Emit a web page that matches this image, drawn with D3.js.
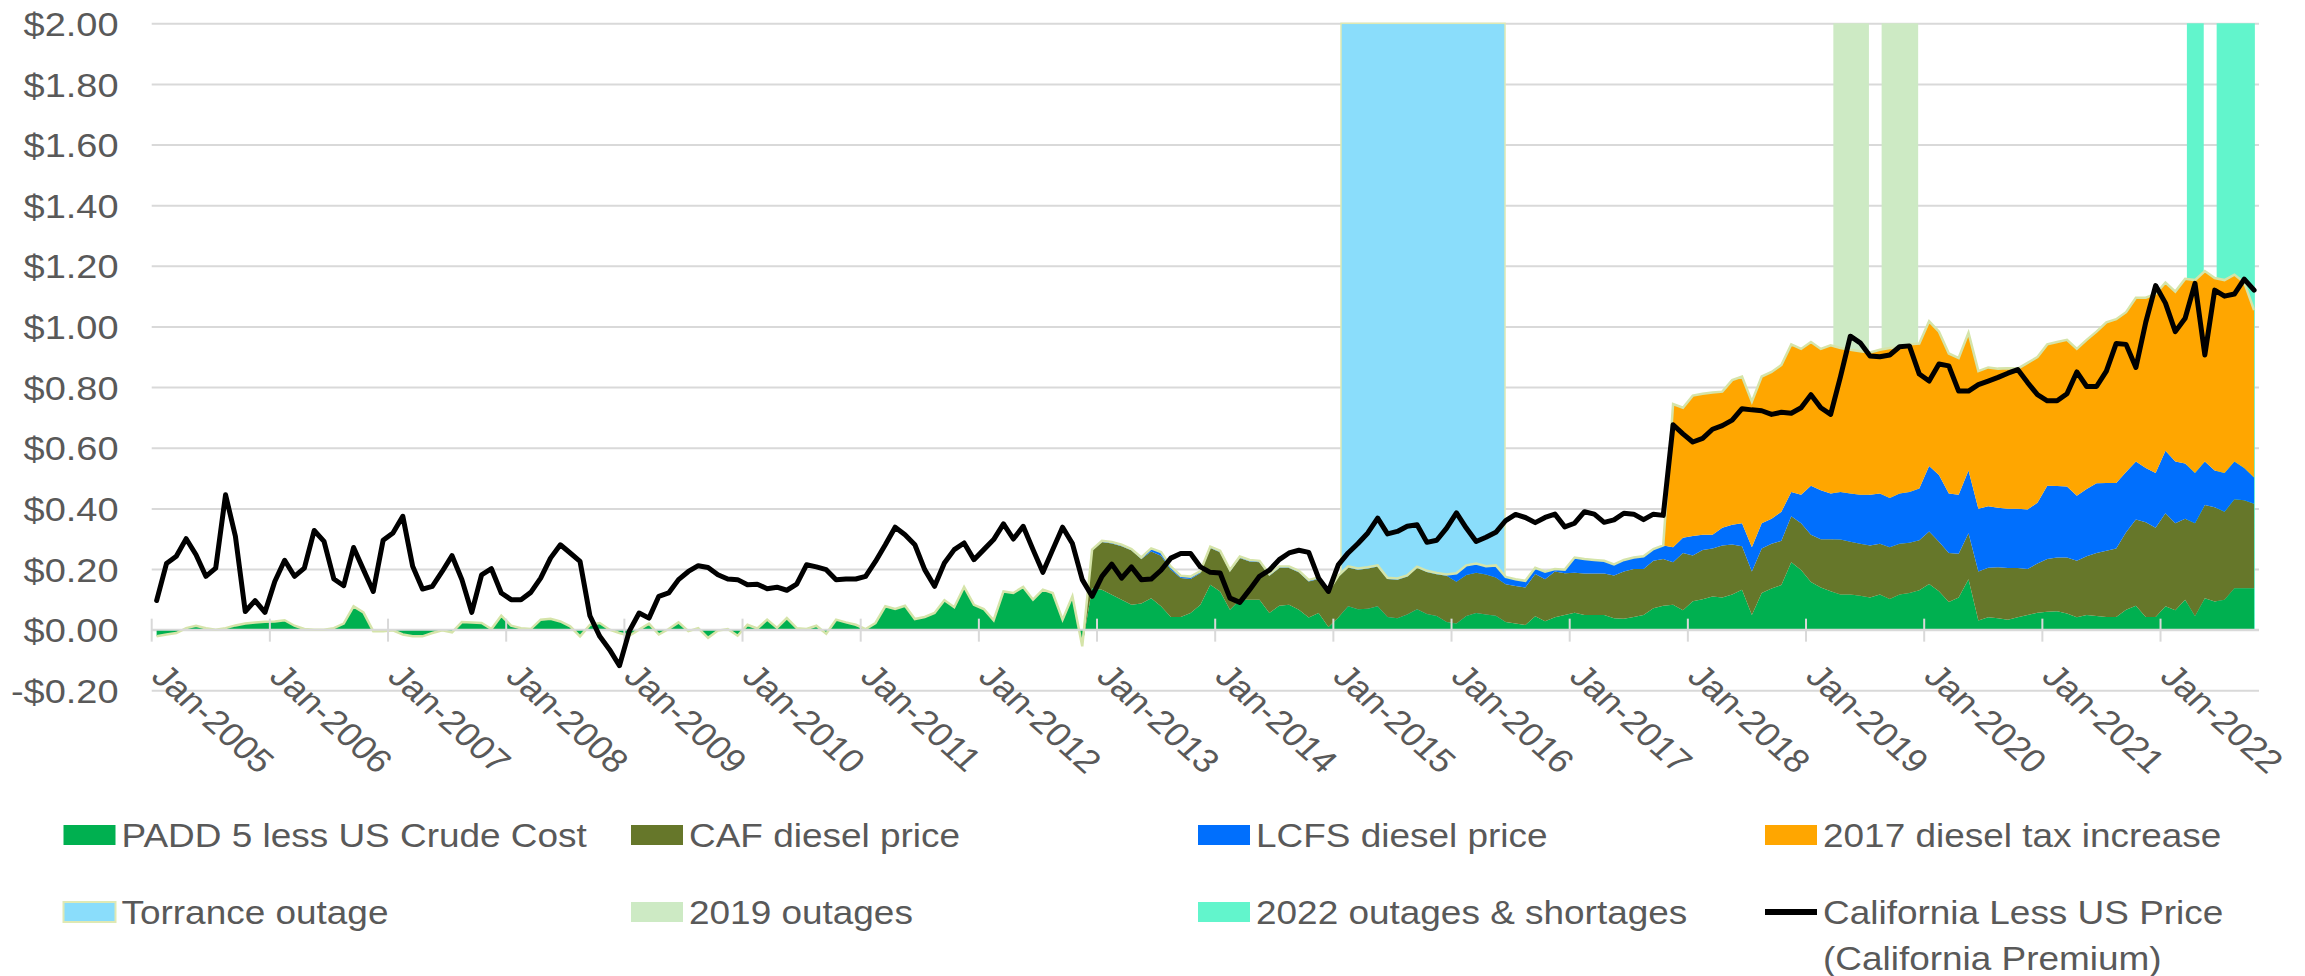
<!DOCTYPE html>
<html><head><meta charset="utf-8">
<script src="https://cdn.jsdelivr.net/npm/d3@7"></script>
<style>
body{margin:0;background:#fff;}
svg{display:block;}
text{font-family:"Liberation Sans",Arial,sans-serif;fill:#595959;}
</style>
</head><body>
<svg id="chart" width="2305" height="976"></svg>
<script>
// ---------------- DATA ----------------
const firstMonth = "2005-01";
const monthCount = 214; // Jan-2005 .. Oct-2022
const xTickLabels = ["Jan-2005","Jan-2006","Jan-2007","Jan-2008","Jan-2009","Jan-2010","Jan-2011","Jan-2012","Jan-2013","Jan-2014","Jan-2015","Jan-2016","Jan-2017","Jan-2018","Jan-2019","Jan-2020","Jan-2021","Jan-2022"];
const yTickValues = [-0.2,0,0.2,0.4,0.6,0.8,1.0,1.2,1.4,1.6,1.8,2.0];

// California Less US Price (California Premium), $/gal, monthly from Jan-2005
const premium = [
0.096,0.218,0.242,0.300,0.247,0.176,0.203,0.445,0.308,0.060,0.096,0.057,
0.159,0.229,0.176,0.203,0.327,0.291,0.167,0.145,0.271,0.198,0.126,0.295,
0.319,0.374,0.209,0.134,0.143,0.192,0.244,0.165,0.057,0.181,0.201,0.121,
0.099,0.099,0.123,0.170,0.236,0.280,0.253,0.225,0.046,-0.022,-0.066,-0.119,
-0.005,0.055,0.038,0.110,0.121,0.165,0.192,0.211,0.205,0.181,0.167,0.165,
0.148,0.150,0.135,0.140,0.130,0.150,0.214,0.207,0.198,0.165,0.167,0.167,
0.176,0.225,0.280,0.338,0.313,0.280,0.198,0.143,0.220,0.264,0.286,0.231,
0.264,0.297,0.349,0.299,0.341,0.264,0.189,0.264,0.338,0.284,0.165,0.110,
0.176,0.216,0.170,0.207,0.165,0.167,0.196,0.236,0.251,0.251,0.207,0.189,
0.187,0.104,0.090,0.132,0.176,0.196,0.231,0.253,0.262,0.255,0.170,0.126,
0.214,0.253,0.284,0.319,0.368,0.316,0.324,0.341,0.346,0.288,0.295,0.335,
0.385,0.335,0.291,0.305,0.321,0.360,0.380,0.370,0.353,0.370,0.381,0.339,
0.351,0.389,0.381,0.354,0.362,0.384,0.381,0.363,0.381,0.377,0.676,0.646,
0.619,0.631,0.661,0.673,0.691,0.729,0.725,0.722,0.710,0.717,0.714,0.732,
0.775,0.732,0.710,0.835,0.968,0.946,0.903,0.900,0.906,0.933,0.936,0.843,
0.820,0.876,0.870,0.787,0.787,0.808,0.820,0.832,0.846,0.858,0.815,0.775,
0.755,0.755,0.778,0.850,0.802,0.802,0.853,0.944,0.941,0.865,1.014,1.135,
1.077,0.983,1.027,1.142,0.906,1.120,1.100,1.107,1.156,1.120
];

// PADD 5 less US Crude Cost, monthly from Jan-2005
const padd5 = [
-0.022,-0.016,-0.011,0.005,0.013,0.005,0.000,0.005,0.014,0.020,0.024,0.026,
0.027,0.031,0.013,0.002,0.000,0.000,0.005,0.020,0.077,0.057,-0.005,-0.005,
-0.002,-0.016,-0.022,-0.022,-0.011,-0.002,-0.009,0.025,0.024,0.022,0.002,0.046,
0.013,0.005,0.002,0.033,0.036,0.027,0.011,-0.022,0.016,0.022,0.000,-0.011,
-0.020,0.000,0.020,-0.016,0.002,0.024,-0.005,0.005,-0.027,-0.003,0.002,-0.020,
0.016,0.004,0.033,0.006,0.038,0.005,0.002,0.013,-0.013,0.033,0.024,0.016,
0.002,0.022,0.077,0.068,0.079,0.035,0.042,0.055,0.097,0.074,0.141,0.082,
0.068,0.031,0.126,0.121,0.141,0.099,0.132,0.121,0.033,0.110,-0.055,0.137,
0.132,0.115,0.099,0.082,0.086,0.104,0.077,0.042,0.042,0.055,0.082,0.148,
0.126,0.066,0.099,0.099,0.099,0.055,0.079,0.082,0.066,0.040,0.055,0.009,
0.040,0.077,0.067,0.069,0.077,0.042,0.038,0.050,0.067,0.052,0.045,0.025,
0.020,0.045,0.055,0.050,0.046,0.025,0.020,0.015,0.044,0.028,0.041,0.048,
0.056,0.048,0.048,0.048,0.038,0.036,0.042,0.048,0.071,0.079,0.082,0.064,
0.094,0.100,0.109,0.106,0.116,0.132,0.048,0.121,0.136,0.147,0.222,0.197,
0.157,0.139,0.127,0.116,0.116,0.112,0.106,0.116,0.101,0.116,0.121,0.130,
0.151,0.127,0.091,0.106,0.166,0.030,0.041,0.038,0.033,0.041,0.048,0.056,
0.059,0.061,0.053,0.041,0.048,0.045,0.042,0.042,0.066,0.079,0.042,0.042,
0.077,0.064,0.099,0.044,0.104,0.093,0.099,0.137,0.137,0.137
];

// CAF diesel price, monthly from Dec-2012
const cafStart = "2012-12";
const caf = [
0.123,
0.157,0.169,0.176,0.180,0.147,0.154,0.167,0.156,0.128,0.112,0.105,0.121,
0.129,0.126,0.137,0.126,0.123,0.123,0.124,0.121,0.123,0.119,0.112,0.114,
0.134,0.128,0.131,0.133,0.131,0.125,0.127,0.125,0.137,0.138,0.138,0.153,
0.138,0.135,0.133,0.132,0.126,0.125,0.124,0.124,0.140,0.138,0.151,0.138,
0.132,0.137,0.137,0.137,0.141,0.156,0.158,0.152,0.156,0.154,0.140,0.189,
0.151,0.163,0.159,0.172,0.165,0.143,0.144,0.147,0.147,0.146,0.152,0.154,
0.156,0.159,0.171,0.181,0.174,0.171,0.172,0.167,0.171,0.167,0.166,0.165,
0.173,0.163,0.162,0.144,0.152,0.162,0.163,0.168,0.170,0.162,0.152,0.162,
0.174,0.177,0.185,0.186,0.194,0.208,0.218,0.226,0.255,0.284,0.312,0.294,
0.307,0.287,0.267,0.307,0.307,0.311,0.290,0.293,0.290,0.278
];

// LCFS diesel price, monthly from Dec-2012
const lcfsStart = "2012-12";
const lcfs = [
0.004,
0.004,0.005,0.005,0.004,0.005,0.010,0.012,0.010,0.008,0.008,0.006,0.005,
0.005,0.005,0.005,0.005,0.005,0.005,0.005,0.005,0.005,0.005,0.005,0.005,
0.004,0.004,0.004,0.004,0.004,0.004,0.004,0.004,0.004,0.004,0.004,0.004,
0.028,0.032,0.030,0.027,0.040,0.024,0.022,0.022,0.020,0.025,0.008,0.012,
0.050,0.048,0.045,0.042,0.036,0.038,0.038,0.042,0.039,0.045,0.050,0.050,
0.064,0.050,0.045,0.058,0.065,0.076,0.080,0.083,0.083,0.096,0.080,0.094,
0.162,0.162,0.151,0.157,0.159,0.162,0.167,0.166,0.162,0.166,0.167,0.171,
0.216,0.220,0.196,0.195,0.207,0.207,0.203,0.196,0.196,0.196,0.196,0.201,
0.242,0.236,0.234,0.215,0.222,0.230,0.224,0.216,0.199,0.192,0.179,0.181,
0.206,0.204,0.182,0.166,0.144,0.121,0.128,0.125,0.106,0.087
];

// 2017 diesel tax increase, monthly from Nov-2017
const taxStart = "2017-11";
const tax2017 = [
0.472,0.429,
0.463,0.465,0.469,0.449,0.477,0.484,0.480,0.484,0.484,0.484,0.487,0.481,
0.474,0.466,0.489,0.475,0.474,0.473,0.469,0.474,0.495,0.480,0.487,0.478,
0.477,0.473,0.462,0.451,0.454,0.454,0.458,0.459,0.463,0.462,0.484,0.480,
0.466,0.475,0.484,0.484,0.492,0.500,0.530,0.540,0.527,0.540,0.562,0.590,
0.555,0.560,0.609,0.636,0.628,0.635,0.636,0.616,0.612,0.552
];

// Outage periods (start date, end date)
const torranceOutage = [["2015-01-25","2016-06-14"]];
const outages2019 = [["2019-03-25","2019-07-13"],["2019-08-22","2019-12-13"]];
const outages2022 = [["2022-03-22","2022-05-13"],["2022-06-22","2022-10-19"]];

const legendItems = [
  {label:"PADD 5 less US Crude Cost", kind:"box", key:"padd5"},
  {label:"CAF diesel price", kind:"box", key:"caf"},
  {label:"LCFS diesel price", kind:"box", key:"lcfs"},
  {label:"2017 diesel tax increase", kind:"box", key:"tax"},
  {label:"Torrance outage", kind:"box", key:"torrance"},
  {label:"2019 outages", kind:"box", key:"o2019"},
  {label:"2022 outages & shortages", kind:"box", key:"o2022"},
  {label:["California Less US Price","(California Premium)"], kind:"line", key:"premium"}
];

// ---------------- STYLE ----------------
const colors = {
  padd5:"#00b050", caf:"#66772a", lcfs:"#006ffd", tax:"#ffa600",
  torrance:"#8addfb", o2019:"#cdeac4", o2022:"#62f5cc", premium:"#000000",
  outline:"#d5e4a9", grid:"#d9d9d9"
};
const W = 2305, H = 976;
const plotL = 151.7, plotR = 2259, plotT = 23.3, plotB = 690.3;
const SX = 1.12;   // horizontal text stretch
const SXY = 1.15;  // stretch for y-axis labels
const FS = 33;

// ---------------- HELPERS ----------------
const parseMonth = d3.utcParse("%Y-%m");
const parseDay = d3.utcParse("%Y-%m-%d");
const m0 = parseMonth(firstMonth);
function monthIndex(str){ const d = parseMonth(str); return d3.utcMonth.count(m0, d); }
function fracMonth(str){
  const d = parseDay(str);
  const ms = d3.utcMonth.floor(d), me = d3.utcMonth.offset(ms,1);
  return d3.utcMonth.count(m0, ms) + (d - ms)/(me - ms);
}
function pad(arr, startStr){
  const s = monthIndex(startStr);
  return d3.range(monthCount).map(i => (i>=s && i-s < arr.length) ? arr[i-s] : 0);
}
const cafP = pad(caf, cafStart), lcfsP = pad(lcfs, lcfsStart), taxP = pad(tax2017, taxStart);
const rows = d3.range(monthCount).map(i => ({
  i, padd5: padd5[i], caf: cafP[i], lcfs: lcfsP[i], tax: taxP[i], premium: premium[i]
}));

const x = d3.scaleLinear().domain([0, monthCount]).range([plotL, plotR]);
const y = d3.scaleLinear().domain([-0.2, 2.0]).range([plotB, plotT]);
const xc = i => x(i + 0.5);

const svg = d3.select("#chart");
svg.append("rect").attr("width",W).attr("height",H).attr("fill","#fff");

// gridlines + y labels via axis
const fmt = v => (v < 0 ? "-$" : "$") + Math.abs(v).toFixed(2);
const yAxis = d3.axisLeft(y).tickValues(yTickValues).tickFormat(fmt).tickSize(-(plotR-plotL)).tickPadding(0);
const gy = svg.append("g").attr("transform",`translate(${plotL},0)`).call(yAxis);
gy.select(".domain").remove();
gy.selectAll(".tick line").attr("stroke",colors.grid).attr("stroke-width",2);
gy.selectAll(".tick text")
  .attr("x",null).attr("dy",null)
  .attr("text-anchor","end")
  .attr("dominant-baseline","central")
  .attr("transform",`translate(${118.5-plotL},1) scale(${SXY},1)`)
  .style("font-family",'"Liberation Sans",Arial,sans-serif')
  .style("font-size",FS+"px").attr("fill","#595959");

// outage bands
function bands(list, color, stroke){
  svg.append("g").selectAll("rect").data(list).join("rect")
    .attr("x", d => x(fracMonth(d[0])))
    .attr("width", d => x(fracMonth(d[1])) - x(fracMonth(d[0])))
    .attr("y", y(2.0)).attr("height", y(0) - y(2.0))
    .attr("fill", color)
    .attr("stroke", stroke || "none").attr("stroke-width", stroke ? 1.5 : 0);
}
bands(torranceOutage, colors.torrance, "#dfe9b4");
bands(outages2019, colors.o2019);
bands(outages2022, colors.o2022);

// stacked areas
const keys = ["padd5","caf","lcfs","tax"];
const stacked = d3.stack().keys(keys).offset(d3.stackOffsetNone)(rows);
const area = d3.area().x((d,i)=>xc(i)).y0(d=>y(d[0])).y1(d=>y(d[1]));
svg.append("g").selectAll("path").data(stacked).join("path")
  .attr("d", area).attr("fill", d => colors[d.key]);

// pale outline on stack top
const stackTop = stacked[stacked.length-1];
svg.append("path").datum(stackTop)
  .attr("d", d3.line().x((d,i)=>xc(i)).y(d=>y(d[1])))
  .attr("fill","none").attr("stroke",colors.outline).attr("stroke-width",2.5);

// x axis line and ticks
svg.append("line").attr("x1",plotL).attr("x2",plotR).attr("y1",y(0)).attr("y2",y(0))
  .attr("stroke",colors.grid).attr("stroke-width",2);
const tickIdx = xTickLabels.map((_,k)=>k*12);
svg.append("g").selectAll("line").data(tickIdx).join("line")
  .attr("x1",d=>x(d)).attr("x2",d=>x(d)).attr("y1",y(0)-11).attr("y2",y(0)+12)
  .attr("stroke",colors.grid).attr("stroke-width",2);
svg.append("g").selectAll("text").data(xTickLabels).join("text")
  .attr("transform",(d,k)=>`translate(${x(k*12)-2},${678}) scale(${SX},1) rotate(45)`)
  .attr("text-anchor","start")
  .style("font-size",FS+"px")
  .text(d=>d);

// premium line
svg.append("path").datum(rows)
  .attr("d", d3.line().x(d=>xc(d.i)).y(d=>y(d.premium)))
  .attr("fill","none").attr("stroke",colors.premium).attr("stroke-width",5)
  .attr("stroke-linejoin","round").attr("stroke-linecap","round");

// legend
const swatchX = [63.5, 631, 1198, 1765];
const rowY = [835, 912];
const lg = svg.append("g");
legendItems.forEach((it,k)=>{
  const sx0 = swatchX[k%4], cy = rowY[Math.floor(k/4)];
  const tx = sx0 + 58;
  if(it.kind==="box"){
    lg.append("rect").attr("x",sx0).attr("y",cy-10).attr("width",52).attr("height",20)
      .attr("fill",colors[it.key])
      .attr("stroke", it.key==="torrance" ? "#dfe9b4" : "none").attr("stroke-width",2);
  } else {
    lg.append("line").attr("x1",sx0).attr("x2",sx0+52).attr("y1",cy).attr("y2",cy)
      .attr("stroke","#000").attr("stroke-width",6);
  }
  const lines = Array.isArray(it.label) ? it.label : [it.label];
  lines.forEach((t,j)=>{
    lg.append("text")
      .attr("transform",`translate(${tx},${cy + j*46}) scale(${SX},1)`)
      .attr("dominant-baseline","central")
      .style("font-size",FS+"px").text(t);
  });
});
</script>
</body></html>
